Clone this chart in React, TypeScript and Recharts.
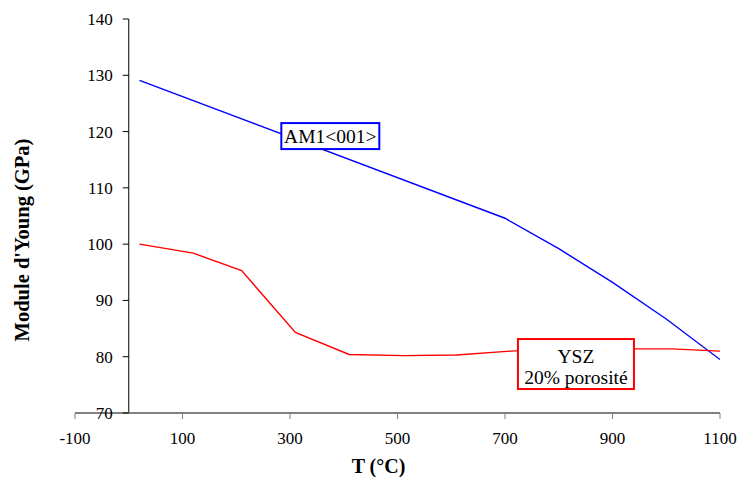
import React from 'react';
import { LineChart, Line, XAxis, YAxis, ReferenceLine, ReferenceDot } from 'recharts';

// AM1 <001> single crystal
const am1Temps = [20, 700, 800, 900, 1000, 1100];
const am1Modulus = [129.1, 104.6, 99.2, 93.2, 86.7, 79.5];

// YSZ, 20% porosity
const yszTemps = [20, 120, 210, 310, 410, 510, 610, 710, 810, 910, 1010, 1100];
const yszModulus = [100, 98.4, 95.3, 84.3, 80.4, 80.2, 80.3, 81.0, 81.4, 81.4, 81.4, 81.0];

const xTicks = [-100, 100, 300, 500, 700, 900, 1100];
const yTicks = [70, 80, 90, 100, 110, 120, 130, 140];

const am1Data = am1Temps.map((t, i) => ({ t, e: am1Modulus[i] }));
const yszData = yszTemps.map((t, i) => ({ t, e: yszModulus[i] }));

const FONT = "'Liberation Serif', serif";
const W = 739;
const H = 477;
const LEFT = 75;
const RIGHT = 19;
// y axis crosses at T = 0
const AXIS_X = LEFT + ((0 - -100) / 1200) * (W - LEFT - RIGHT);

const txt = (size: number, bold = false) => ({ fontFamily: FONT, fontSize: size, fontWeight: bold ? 700 : 400, fill: '#000' });

const YTick = (props: any) => {
  const { y, payload } = props;
  return (
    <g>
      <line x1={AXIS_X - 6} x2={AXIS_X} y1={y} y2={y} stroke="#000" strokeWidth={1} />
      <text x={AXIS_X - 16} y={y} dy="0.35em" textAnchor="end" style={txt(17)}>
        {payload.value}
      </text>
    </g>
  );
};

const XTick = (props: any) => {
  const { x, y, payload } = props;
  return (
    <text x={x} y={y} dy="0.71em" textAnchor="middle" style={txt(17)}>
      {payload.value}
    </text>
  );
};

const Box = ({ cx, cy, w, h, color, lines, offsets }: any) => (
  <g>
    <rect x={cx - w / 2} y={cy - h / 2} width={w} height={h} fill="#fff" stroke={color} strokeWidth={2} />
    {lines.map((s: string, i: number) => (
      <text key={i} x={cx} y={cy + offsets[i]} textAnchor="middle" style={txt(19.5)}>
        {s}
      </text>
    ))}
  </g>
);

export default function App() {
  return (
    <div style={{ position: 'absolute', left: 0, top: 0, background: '#fff', fontFamily: FONT }}>
      <LineChart width={W} height={H} margin={{ top: 19, right: RIGHT, bottom: 0, left: 0 }}>
        <XAxis
          dataKey="t"
          type="number"
          domain={[-100, 1100]}
          ticks={xTicks}
          interval={0}
          allowDataOverflow
          height={64}
          stroke="#808080"
          axisLine={{ stroke: '#808080', strokeWidth: 2 }}
          tickLine={{ stroke: '#808080' }}
          tickSize={6}
          tickMargin={13}
          tick={<XTick />}
          label={{
            content: (p: any) => {
              const vb = p.viewBox;
              return (
                <text x={vb.x + vb.width / 2 - 19} y={473} textAnchor="middle" style={txt(20, true)}>
                  T (°C)
                </text>
              );
            },
          }}
        />
        <YAxis
          type="number"
          domain={[70, 140]}
          ticks={yTicks}
          interval={0}
          width={LEFT}
          axisLine={false}
          tickLine={false}
          tick={<YTick />}
          label={{
            content: (p: any) => {
              const vb = p.viewBox;
              const cy = vb.y + vb.height / 2 + 24;
              return (
                <text x={29} y={cy} transform={`rotate(-90 29 ${cy})`} textAnchor="middle" style={txt(20.5, true)}>
                  Module d'Young (GPa)
                </text>
              );
            },
          }}
        />
        <ReferenceLine x={0} stroke="#000" strokeWidth={1} />
        <Line data={am1Data} dataKey="e" type="linear" stroke="#0000FF" strokeWidth={1.4} dot={false} isAnimationActive={false} />
        <Line data={yszData} dataKey="e" type="linear" stroke="#FF0000" strokeWidth={1.4} dot={false} isAnimationActive={false} />
        <ReferenceDot
          x={375}
          y={119.2}
          r={1}
          shape={(p: any) => <Box cx={p.cx} cy={p.cy} w={98} h={26} color="#0000FF" lines={['AM1<001>']} offsets={[6.5]} />}
        />
        <ReferenceDot
          x={832}
          y={78.7}
          r={1}
          shape={(p: any) => <Box cx={p.cx} cy={p.cy} w={116} h={50} color="#FF0000" lines={['YSZ', '20% porosité']} offsets={[-1, 20]} />}
        />
      </LineChart>
    </div>
  );
}
